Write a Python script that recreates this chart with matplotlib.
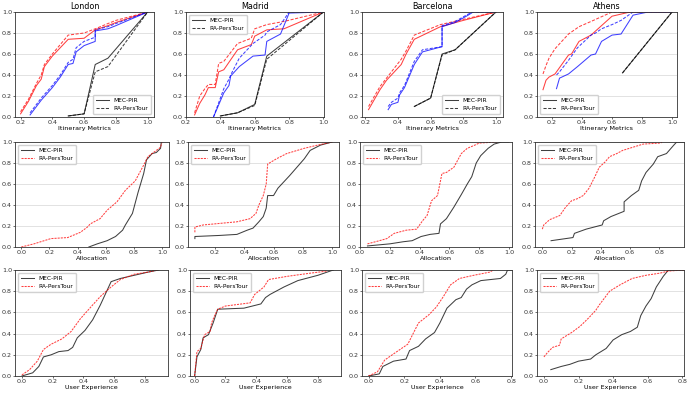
import matplotlib
matplotlib.use("Agg")
import matplotlib.pyplot as plt
from matplotlib.lines import Line2D

cities = ["London", "Madrid", "Barcelona", "Athens"]
row_labels = ["Itinerary Metrics", "Allocation", "User Experience"]
series_names = ["MEC-PIR", "RA-PersTour"]

# ---------------- Row 1: Itinerary metrics (red / blue / black groups) ----------------
lon_red_x = [0.2, 0.25, 0.3, 0.33, 0.35, 0.4, 0.45, 0.5, 0.6, 0.67, 0.75, 0.8, 0.9, 1.0]
lon_red_mec = [0.03, 0.15, 0.30, 0.36, 0.48, 0.58, 0.66, 0.74, 0.75, 0.83, 0.87, 0.90, 0.95, 1.0]
lon_red_ra = [0.05, 0.17, 0.32, 0.40, 0.50, 0.60, 0.69, 0.78, 0.80, 0.84, 0.89, 0.92, 0.96, 1.0]
lon_blue_x = [0.26, 0.33, 0.4, 0.45, 0.5, 0.53, 0.55, 0.6, 0.67, 0.67, 0.75, 0.8, 1.0]
lon_blue_mec = [0.02, 0.16, 0.28, 0.38, 0.50, 0.51, 0.62, 0.68, 0.72, 0.82, 0.84, 0.87, 1.0]
lon_blue_ra = [0.04, 0.18, 0.30, 0.40, 0.52, 0.55, 0.66, 0.72, 0.76, 0.83, 0.86, 0.89, 1.0]
lon_blk_x = [0.5, 0.6, 0.67, 0.75, 1.0]
lon_blk_mec = [0.01, 0.03, 0.50, 0.56, 1.0]
lon_blk_ra = [0.01, 0.03, 0.43, 0.48, 1.0]

mad_red_x = [0.25, 0.28, 0.31, 0.33, 0.37, 0.39, 0.42, 0.5, 0.58, 0.6, 0.67, 0.77, 1.0]
mad_red_mec = [0.02, 0.13, 0.21, 0.28, 0.28, 0.43, 0.45, 0.64, 0.69, 0.77, 0.83, 0.84, 1.0]
mad_red_ra = [0.04, 0.20, 0.27, 0.31, 0.31, 0.51, 0.53, 0.70, 0.75, 0.84, 0.88, 0.91, 1.0]
mad_blue_x = [0.36, 0.42, 0.45, 0.46, 0.51, 0.59, 0.66, 0.67, 0.75, 0.8, 1.0]
mad_blue_mec = [0.0, 0.23, 0.30, 0.39, 0.48, 0.58, 0.59, 0.72, 0.79, 0.99, 1.0]
mad_blue_ra = [0.0, 0.27, 0.36, 0.40, 0.56, 0.70, 0.78, 0.81, 0.88, 1.0, 1.0]
mad_blk_x = [0.4, 0.5, 0.6, 0.67, 1.0]
mad_blk_mec = [0.01, 0.04, 0.12, 0.58, 1.0]
mad_blk_ra = [0.01, 0.04, 0.11, 0.55, 1.0]

bar_red_x = [0.22, 0.29, 0.33, 0.42, 0.45, 0.5, 0.66, 0.8, 1.0]
bar_red_mec = [0.07, 0.26, 0.35, 0.50, 0.60, 0.74, 0.86, 0.92, 1.0]
bar_red_ra = [0.10, 0.29, 0.37, 0.55, 0.63, 0.78, 0.88, 0.93, 1.0]
bar_blue_x = [0.34, 0.36, 0.4, 0.41, 0.44, 0.5, 0.55, 0.67, 0.67, 0.75, 0.83, 0.86, 1.0]
bar_blue_mec = [0.07, 0.12, 0.14, 0.21, 0.28, 0.50, 0.62, 0.67, 0.86, 0.90, 0.97, 1.0, 1.0]
bar_blue_ra = [0.10, 0.14, 0.18, 0.23, 0.30, 0.53, 0.64, 0.67, 0.87, 0.91, 0.98, 1.0, 1.0]
bar_blk_x = [0.5, 0.6, 0.67, 0.75, 1.0]
bar_blk_mec = [0.10, 0.18, 0.60, 0.64, 1.0]
bar_blk_ra = [0.10, 0.18, 0.59, 0.64, 1.0]

ath_red_x = [0.14, 0.16, 0.18, 0.22, 0.31, 0.33, 0.38, 0.46, 0.6, 0.72, 1.0]
ath_red_mec = [0.26, 0.35, 0.38, 0.41, 0.59, 0.60, 0.72, 0.78, 0.96, 1.0, 1.0]
ath_red_ra = [0.41, 0.49, 0.56, 0.65, 0.79, 0.81, 0.86, 0.91, 1.0, 1.0, 1.0]
ath_blue_x = [0.23, 0.25, 0.31, 0.37, 0.46, 0.49, 0.53, 0.6, 0.66, 0.74, 0.84, 1.0]
ath_blue_mec = [0.27, 0.37, 0.41, 0.48, 0.59, 0.60, 0.72, 0.78, 0.79, 0.97, 1.0, 1.0]
ath_blue_ra = [0.40, 0.43, 0.54, 0.66, 0.78, 0.80, 0.84, 0.88, 0.92, 1.0, 1.0, 1.0]
ath_blk_x = [0.67, 1.0]
ath_blk_mec = [0.42, 1.0]
ath_blk_ra = [0.42, 1.0]

# ---------------- Row 2: Allocation ----------------
lon_alloc_ra_x = [0.0, 0.09, 0.21, 0.33, 0.42, 0.47, 0.49, 0.56, 0.61, 0.68, 0.74, 0.81, 0.87, 0.9, 0.94, 0.99, 1.0]
lon_alloc_ra_y = [0.0, 0.03, 0.08, 0.09, 0.14, 0.19, 0.22, 0.27, 0.35, 0.43, 0.54, 0.63, 0.78, 0.86, 0.90, 0.95, 1.0]
lon_alloc_mec_x = [0.48, 0.54, 0.61, 0.67, 0.72, 0.74, 0.79, 0.83, 0.87, 0.89, 0.93, 0.96, 0.99, 0.995]
lon_alloc_mec_y = [0.0, 0.03, 0.06, 0.10, 0.16, 0.21, 0.32, 0.52, 0.70, 0.83, 0.89, 0.90, 0.94, 1.0]

mad_alloc_ra_x = [0.063, 0.063, 0.12, 0.35, 0.44, 0.48, 0.5, 0.53, 0.55, 0.56, 0.62, 0.69, 0.81, 0.9, 1.0]
mad_alloc_ra_y = [0.14, 0.19, 0.21, 0.24, 0.27, 0.32, 0.40, 0.49, 0.60, 0.79, 0.84, 0.89, 0.94, 0.97, 1.0]
mad_alloc_mec_x = [0.063, 0.063, 0.23, 0.35, 0.42, 0.46, 0.5, 0.53, 0.55, 0.56, 0.6, 0.63, 0.67, 0.71, 0.76, 0.81, 0.85, 0.92, 1.0]
mad_alloc_mec_y = [0.08, 0.10, 0.11, 0.12, 0.16, 0.18, 0.24, 0.29, 0.37, 0.49, 0.49, 0.56, 0.62, 0.68, 0.76, 0.84, 0.92, 0.97, 1.0]

bar_alloc_ra_x = [0.05, 0.13, 0.18, 0.23, 0.31, 0.38, 0.42, 0.45, 0.48, 0.52, 0.55, 0.58, 0.63, 0.68, 0.72, 0.77, 0.8, 0.92]
bar_alloc_ra_y = [0.03, 0.06, 0.08, 0.13, 0.16, 0.17, 0.25, 0.30, 0.44, 0.49, 0.70, 0.71, 0.76, 0.89, 0.94, 0.97, 0.99, 1.0]
bar_alloc_mec_x = [0.05, 0.2, 0.29, 0.35, 0.41, 0.47, 0.53, 0.54, 0.58, 0.63, 0.68, 0.72, 0.75, 0.78, 0.81, 0.86, 0.9, 0.95, 1.0]
bar_alloc_mec_y = [0.01, 0.03, 0.05, 0.06, 0.10, 0.12, 0.13, 0.22, 0.27, 0.38, 0.50, 0.60, 0.67, 0.80, 0.87, 0.94, 0.98, 1.0, 1.0]

ath_alloc_ra_x = [0.0, 0.01, 0.05, 0.12, 0.16, 0.2, 0.24, 0.28, 0.32, 0.36, 0.39, 0.43, 0.46, 0.51, 0.55, 0.62, 0.69, 0.81, 0.82]
ath_alloc_ra_y = [0.17, 0.21, 0.26, 0.30, 0.38, 0.44, 0.46, 0.49, 0.56, 0.67, 0.76, 0.81, 0.86, 0.89, 0.92, 0.95, 0.98, 0.99, 1.0]
ath_alloc_mec_x = [0.06, 0.21, 0.22, 0.3, 0.41, 0.42, 0.47, 0.56, 0.56, 0.61, 0.66, 0.68, 0.71, 0.76, 0.79, 0.85, 0.9, 0.92, 0.97]
ath_alloc_mec_y = [0.06, 0.09, 0.13, 0.17, 0.21, 0.25, 0.29, 0.34, 0.43, 0.49, 0.54, 0.63, 0.71, 0.79, 0.86, 0.89, 0.97, 1.0, 1.0]

# ---------------- Row 3: User experience ----------------
lon_ux_ra_x = [0.0, 0.05, 0.1, 0.14, 0.19, 0.26, 0.32, 0.38, 0.46, 0.51, 0.58, 0.64, 0.73, 0.82, 0.88]
lon_ux_ra_y = [0.01, 0.06, 0.14, 0.25, 0.30, 0.35, 0.42, 0.54, 0.67, 0.75, 0.84, 0.91, 0.96, 0.98, 1.0]
lon_ux_mec_x = [0.0, 0.07, 0.11, 0.14, 0.19, 0.24, 0.3, 0.33, 0.36, 0.41, 0.46, 0.51, 0.58, 0.64, 0.73, 0.82, 0.89]
lon_ux_mec_y = [0.0, 0.03, 0.09, 0.18, 0.20, 0.23, 0.24, 0.27, 0.36, 0.43, 0.53, 0.67, 0.89, 0.92, 0.95, 0.98, 1.0]

mad_ux_ra_x = [0.0, 0.01, 0.015, 0.04, 0.055, 0.065, 0.1, 0.11, 0.13, 0.15, 0.2, 0.36, 0.39, 0.45, 0.48, 0.6, 0.75, 0.86]
mad_ux_ra_y = [0.0, 0.15, 0.23, 0.26, 0.34, 0.39, 0.42, 0.50, 0.57, 0.63, 0.66, 0.69, 0.77, 0.84, 0.91, 0.94, 0.97, 0.99]
mad_ux_mec_x = [0.0, 0.015, 0.04, 0.055, 0.09, 0.12, 0.15, 0.32, 0.43, 0.46, 0.49, 0.58, 0.67, 0.8, 0.86, 0.9]
mad_ux_mec_y = [0.0, 0.18, 0.25, 0.36, 0.39, 0.50, 0.63, 0.64, 0.68, 0.74, 0.77, 0.84, 0.90, 0.95, 0.98, 1.0]

bar_ux_ra_x = [0.0, 0.05, 0.09, 0.15, 0.22, 0.28, 0.34, 0.38, 0.42, 0.46, 0.51, 0.59, 0.68, 0.7]
bar_ux_ra_y = [0.0, 0.04, 0.15, 0.22, 0.30, 0.50, 0.58, 0.65, 0.75, 0.86, 0.92, 0.95, 0.98, 1.0]
bar_ux_mec_x = [0.0, 0.06, 0.08, 0.14, 0.21, 0.23, 0.28, 0.32, 0.37, 0.4, 0.44, 0.49, 0.52, 0.55, 0.58, 0.63, 0.74, 0.77, 0.78, 0.82]
bar_ux_mec_y = [0.0, 0.02, 0.09, 0.14, 0.16, 0.24, 0.28, 0.35, 0.41, 0.50, 0.64, 0.72, 0.74, 0.82, 0.86, 0.90, 0.92, 0.96, 1.0, 1.0]

ath_ux_ra_x = [0.0, 0.02, 0.05, 0.09, 0.1, 0.16, 0.21, 0.26, 0.3, 0.32, 0.38, 0.44, 0.51, 0.59, 0.67, 0.72, 0.81]
ath_ux_ra_y = [0.18, 0.22, 0.27, 0.29, 0.35, 0.41, 0.47, 0.55, 0.62, 0.67, 0.80, 0.86, 0.92, 0.95, 0.97, 0.99, 1.0]
ath_ux_mec_x = [0.04, 0.1, 0.15, 0.2, 0.27, 0.3, 0.36, 0.4, 0.45, 0.5, 0.54, 0.56, 0.59, 0.62, 0.65, 0.69, 0.72, 0.81]
ath_ux_mec_y = [0.06, 0.09, 0.11, 0.14, 0.16, 0.20, 0.26, 0.34, 0.39, 0.42, 0.46, 0.57, 0.66, 0.73, 0.84, 0.94, 1.0, 1.0]

# ---------------- Layout (pixel boxes and x-limits) ----------------
W, H = 689, 393
boxes = [
    [(15, 154, 12, 117), (186, 324, 12, 117), (362, 503, 12, 117), (537, 677, 12, 117)],
    [(15, 169, 142, 247), (188, 339, 142, 247), (360, 512, 142, 247), (535, 684, 142, 247)],
    [(15, 168, 270, 376), (190, 341, 270, 376), (362, 512, 270, 376), (537, 684, 270, 376)],
]
xlims = [
    [(0.165, 1.04), (0.2, 1.003), (0.18, 1.043), (0.1, 1.033)],
    [(-0.045, 1.05), (0.016, 1.047), (0.0, 1.02), (-0.05, 0.97)],
    [(-0.045, 0.95), (-0.03, 0.95), (-0.037, 0.805), (-0.04, 0.81)],
]

row1 = [
    [(lon_red_x, lon_red_mec, lon_red_ra, "red"), (lon_blue_x, lon_blue_mec, lon_blue_ra, "blue"), (lon_blk_x, lon_blk_mec, lon_blk_ra, "black")],
    [(mad_red_x, mad_red_mec, mad_red_ra, "red"), (mad_blue_x, mad_blue_mec, mad_blue_ra, "blue"), (mad_blk_x, mad_blk_mec, mad_blk_ra, "black")],
    [(bar_red_x, bar_red_mec, bar_red_ra, "red"), (bar_blue_x, bar_blue_mec, bar_blue_ra, "blue"), (bar_blk_x, bar_blk_mec, bar_blk_ra, "black")],
    [(ath_red_x, ath_red_mec, ath_red_ra, "red"), (ath_blue_x, ath_blue_mec, ath_blue_ra, "blue"), (ath_blk_x, ath_blk_mec, ath_blk_ra, "black")],
]
row2 = [
    (lon_alloc_mec_x, lon_alloc_mec_y, lon_alloc_ra_x, lon_alloc_ra_y),
    (mad_alloc_mec_x, mad_alloc_mec_y, mad_alloc_ra_x, mad_alloc_ra_y),
    (bar_alloc_mec_x, bar_alloc_mec_y, bar_alloc_ra_x, bar_alloc_ra_y),
    (ath_alloc_mec_x, ath_alloc_mec_y, ath_alloc_ra_x, ath_alloc_ra_y),
]
row3 = [
    (lon_ux_mec_x, lon_ux_mec_y, lon_ux_ra_x, lon_ux_ra_y),
    (mad_ux_mec_x, mad_ux_mec_y, mad_ux_ra_x, mad_ux_ra_y),
    (bar_ux_mec_x, bar_ux_mec_y, bar_ux_ra_x, bar_ux_ra_y),
    (ath_ux_mec_x, ath_ux_mec_y, ath_ux_ra_x, ath_ux_ra_y),
]
row1_legend_loc = ["lower right", "upper left", "lower right", "lower left"]

TICK_FS = 4.6
LABEL_FS = 4.6
TITLE_FS = 5.8
LEG_FS = 4.2
LW = 0.75
ALPHA = 0.75

fig = plt.figure(figsize=(W / 100, H / 100), dpi=100)


def make_ax(box, xl):
    l, r, t, b = box
    ax = fig.add_axes([l / W, 1 - b / H, (r - l) / W, (b - t) / H])
    ax.set_xlim(*xl)
    ax.set_ylim(0, 1)
    ax.set_yticks([0.0, 0.2, 0.4, 0.6, 0.8, 1.0])
    ax.grid(axis="y", color="#dddddd", linewidth=0.6)
    ax.set_axisbelow(True)
    ax.tick_params(labelsize=TICK_FS, length=1.2, width=0.5, pad=1.0, colors="#333333")
    for s in ax.spines.values():
        s.set_linewidth(0.6)
        s.set_color("#333333")
    return ax


for c in range(4):
    ax = make_ax(boxes[0][c], xlims[0][c])
    for xs, mec, ra, col in row1[c]:
        ax.plot(xs, mec, color=col, lw=LW, alpha=ALPHA, linestyle="-")
        ax.plot(xs, ra, color=col, lw=LW, alpha=ALPHA, linestyle="--", dashes=(3, 1.5))
    ax.set_title(cities[c], fontsize=TITLE_FS, pad=2.5)
    ax.set_xlabel(row_labels[0], fontsize=LABEL_FS, labelpad=1)
    handles = [Line2D([], [], color="black", lw=LW, alpha=ALPHA, linestyle="-"),
               Line2D([], [], color="black", lw=LW, alpha=ALPHA, linestyle="--", dashes=(3, 1.5))]
    ax.legend(handles, series_names, loc=row1_legend_loc[c], fontsize=LEG_FS,
              handlelength=2.2, borderpad=0.5, labelspacing=0.6, framealpha=0.9)

for r_i, rows in ((1, row2), (2, row3)):
    for c in range(4):
        ax = make_ax(boxes[r_i][c], xlims[r_i][c])
        mx, my, rx, ry = rows[c]
        ax.plot(mx, my, color="black", lw=LW, alpha=ALPHA, linestyle="-", label=series_names[0])
        ax.plot(rx, ry, color="red", lw=LW, alpha=ALPHA, linestyle="--", dashes=(2, 1), label=series_names[1])
        ax.set_xlabel(row_labels[r_i], fontsize=LABEL_FS, labelpad=1)
        ax.legend(loc="upper left", fontsize=LEG_FS, handlelength=2.2, borderpad=0.5,
                  labelspacing=0.6, framealpha=0.9)

fig.savefig("out.png", dpi=100)
